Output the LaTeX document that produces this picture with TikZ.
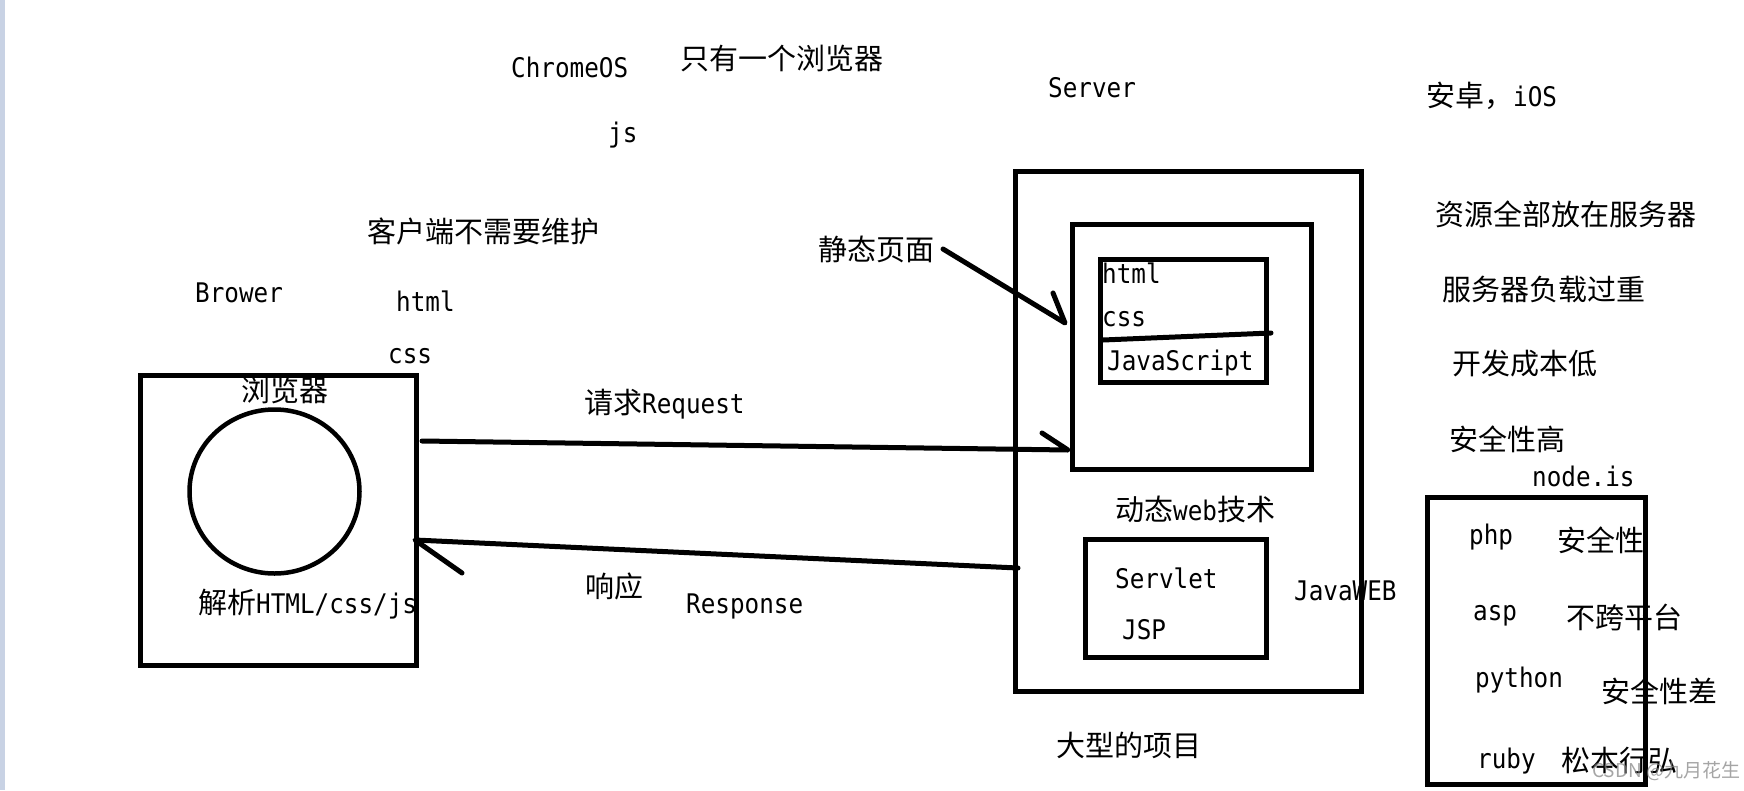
\documentclass[tikz,border=0pt]{standalone}
\usepackage{fontspec}
\usetikzlibrary{shapes.geometric}
\setmainfont{DejaVu Sans Mono}[FakeStretch=0.9]
\newfontfamily\cjk{Noto Sans CJK SC}
\newcommand\zhs[1]{{\fontsize{29}{32}\cjk #1}}
\definecolor{strip}{RGB}{200,210,228}
\begin{document}
\begin{tikzpicture}[x=1pt,y=-1pt,
  lbl/.style={anchor=base west, inner sep=0pt, font=\fontsize{27}{30}\selectfont},
  box/.style={draw, line width=5pt, inner sep=0pt},
  conn/.style={draw, line width=5pt, line cap=round, line join=round}]
\useasboundingbox (0,0) rectangle (1744,790);
\fill[white] (0,0) rectangle (1744,790);
\fill[strip] (0,0) rectangle (5,790);

% texts
\node[lbl] (chromeos) at (511,77) {ChromeOS};
\node[lbl] (onlyb) at (680,69) {\zhs{只有一个浏览器}};
\node[lbl] (js) at (608,142) {js};
\node[lbl] (server) at (1048,97) {Server};
\node[lbl] (android) at (1426,106) {\zhs{安卓，}iOS};
\node[lbl] (nomaint) at (367,242) {\zhs{客户端不需要维护}};
\node[lbl] (static) at (818,260) {\zhs{静态页面}};
\node[lbl] (res) at (1435,225) {\zhs{资源全部放在服务器}};
\node[lbl] (brower) at (195,302) {Brower};
\node[lbl] (htmlL) at (396,311) {html};
\node[lbl] (cssL) at (388,363) {css};
\node[lbl] (load) at (1442,300) {\zhs{服务器负载过重}};
\node[lbl] (cost) at (1452,374) {\zhs{开发成本低}};
\node[lbl] (req) at (584,413) {\zhs{请求}Request};
\node[lbl] (safe) at (1449,450) {\zhs{安全性高}};
\node[lbl] (nodejs) at (1532,486) {node.is};
\node[lbl] (dyn) at (1115,520) {\zhs{动态}web\zhs{技术}};
\node[lbl] (php) at (1469,544) {php};
\node[lbl] (safe2) at (1557,551) {\zhs{安全性}};
\node[lbl] (servlet) at (1115,588) {Servlet};
\node[lbl] (javaweb) at (1294,600) {JavaWEB};
\node[lbl] (resp) at (585,597) {\zhs{响应}};
\node[lbl] (response) at (686,613) {Response};
\node[lbl] (parse) at (198,613) {\zhs{解析}HTML/css/js};
\node[lbl] (asp) at (1473,620) {asp};
\node[lbl] (nocross) at (1566,628) {\zhs{不跨平台}};
\node[lbl] (jsp) at (1122,639) {JSP};
\node[lbl] (python) at (1475,687) {python};
\node[lbl] (unsafe) at (1601,702) {\zhs{安全性差}};
\node[lbl] (big) at (1056,756) {\zhs{大型的项目}};
\node[lbl] (ruby) at (1477,768) {ruby};
\node[lbl] (matz) at (1561,771) {\zhs{松本行弘}};
\node[lbl] (blab) at (241,401) {\zhs{浏览器}};
\node[lbl] (htmlB) at (1102,283) {html};
\node[lbl] (cssB) at (1102,326) {css};
\node[lbl] (jsB) at (1107,370) {JavaScript};

% boxes
\node[box, minimum width=276pt, minimum height=290pt] (browser) at (278,520) {};
\node[draw, ellipse, line width=4.5pt, inner sep=0pt, minimum width=170pt, minimum height=164pt] (globe) at (274.5,491.5) {};
\node[box, minimum width=346pt, minimum height=520pt] (srv) at (1188.5,431.5) {};
\node[box, minimum width=239pt, minimum height=245pt] (stat) at (1192,347) {};
\node[box, minimum width=166pt, minimum height=123pt] (htmlbox) at (1183.5,321) {};
\node[box, minimum width=181pt, minimum height=118pt] (servbox) at (1176,598.5) {};
\node[box, minimum width=218pt, minimum height=287pt] (langs) at (1536.5,641) {};

% divider in html box
\coordinate (divL) at (1103,340);
\coordinate (divR) at (1271,333);
\draw[conn] (divL) -- (divR);

% request arrow
\coordinate (reqS) at (422,441);
\coordinate (reqE) at (1068,450);
\coordinate (reqB) at (1042,433);
\draw[conn] (reqS) -- (reqE) -- (reqB);

% static page arrow
\coordinate (stS) at (943,249);
\coordinate (stE) at (1065,323);
\coordinate (stB) at (1053,293);
\draw[conn] (stS) -- (stE) -- (stB);

% response arrow
\coordinate (rsS) at (1018,568);
\coordinate (rsE) at (415,540);
\coordinate (rsB) at (462,573);
\draw[conn] (rsS) -- (rsE) -- (rsB);

% watermark
\node[anchor=base west, inner sep=0pt, text=gray, text opacity=0.7, font=\fontsize{19}{22}\cjk] (wm) at (1592,777) {CSDN @九月花生};
\end{tikzpicture}
\end{document}
